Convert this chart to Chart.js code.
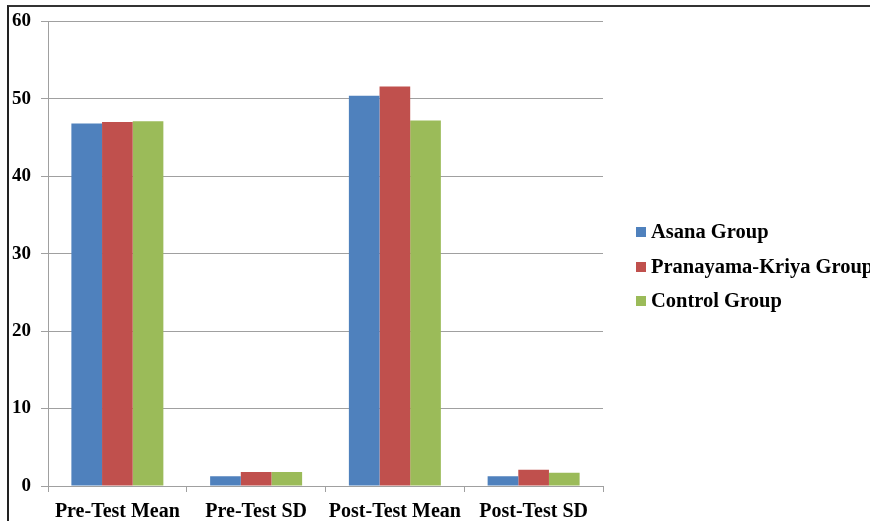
<!DOCTYPE html>
<html>
<head>
<meta charset="utf-8">
<script src="https://cdn.jsdelivr.net/npm/chart.js@4.4.0/dist/chart.umd.min.js"></script>
<style>
  html, body { margin: 0; padding: 0; background: #fff; }
  #marco { position: relative; width: 870px; height: 521px; overflow: hidden; }
  #borde { position: absolute; left: 7px; top: 5px; width: 900px; height: 600px;
           border-left: 2px solid #222; border-top: 2px solid #333; }
  #grafico { position: absolute; left: 0; top: 0; }
  #leyenda { position: absolute; left: 636px; top: 216px; font-family: "Liberation Serif", "Times New Roman", serif;
             font-weight: bold; font-size: 20.5px; color: #000; white-space: nowrap; }
  #leyenda div { height: 34.5px; line-height: 30px; }
  #leyenda span.caja { display: inline-block; width: 10px; height: 10px; margin-right: 5px; vertical-align: 1px; }
</style>
</head>
<body>
<div id="marco">
  <div id="borde"></div>
  <canvas id="grafico" width="870" height="521"></canvas>
  <div id="leyenda"></div>
</div>
<script>
const categorias = ['Pre-Test Mean', 'Pre-Test SD', 'Post-Test Mean', 'Post-Test SD'];
const grupos = ['Asana Group', 'Pranayama-Kriya Group', 'Control Group'];
const asana = [46.8, 1.25, 50.4, 1.25];
const pranayama = [47.0, 1.8, 51.6, 2.1];
const control = [47.1, 1.8, 47.2, 1.7];
const colores = ['#4F81BD', '#C0504D', '#9BBB59'];
const ticksY = [0, 10, 20, 30, 40, 50, 60];

const fuente = { family: '"Liberation Serif", "Times New Roman", serif', weight: 'bold', size: 20 };
const series = [asana, pranayama, control];

const grafico = new Chart(document.getElementById('grafico'), {
    type: 'bar',
    data: {
        labels: categorias,
        datasets: series.map((s, i) => ({
            label: grupos[i],
            data: s,
            backgroundColor: colores[i],
            borderWidth: 0,
            categoryPercentage: 0.663,
            barPercentage: 1
        }))
    },
    options: {
        responsive: false,
        animation: false,
        layout: { padding: { left: 0, right: 267, top: 18, bottom: 0 } },
        plugins: { legend: { display: false }, tooltip: { enabled: false } },
        scales: {
            x: {
                grid: { display: true, drawOnChartArea: false, tickLength: 6, color: '#A0A0A0', offset: true },
                border: { color: '#A0A0A0', width: 1 },
                ticks: { color: '#000', font: fuente, padding: 8, maxRotation: 0 },
                afterFit: (escala) => { escala.height = 35; }
            },
            y: {
                min: 0, max: 60,
                afterBuildTicks: (escala) => { escala.ticks = ticksY.map(v => ({ value: v })); },
                grid: { color: '#A0A0A0', tickLength: 7 },
                border: { color: '#A0A0A0', width: 1 },
                ticks: { color: '#000', font: { ...fuente, size: 19 }, padding: 10 },
                afterFit: (escala) => { escala.width = 48; }
            }
        }
    }
});

// leyenda en HTML
const leyenda = document.getElementById('leyenda');
grupos.forEach((g, i) => {
    const fila = document.createElement('div');
    fila.innerHTML = `<span class="caja" style="background:${colores[i]}"></span>${g}`;
    leyenda.appendChild(fila);
});
</script>
</body>
</html>
